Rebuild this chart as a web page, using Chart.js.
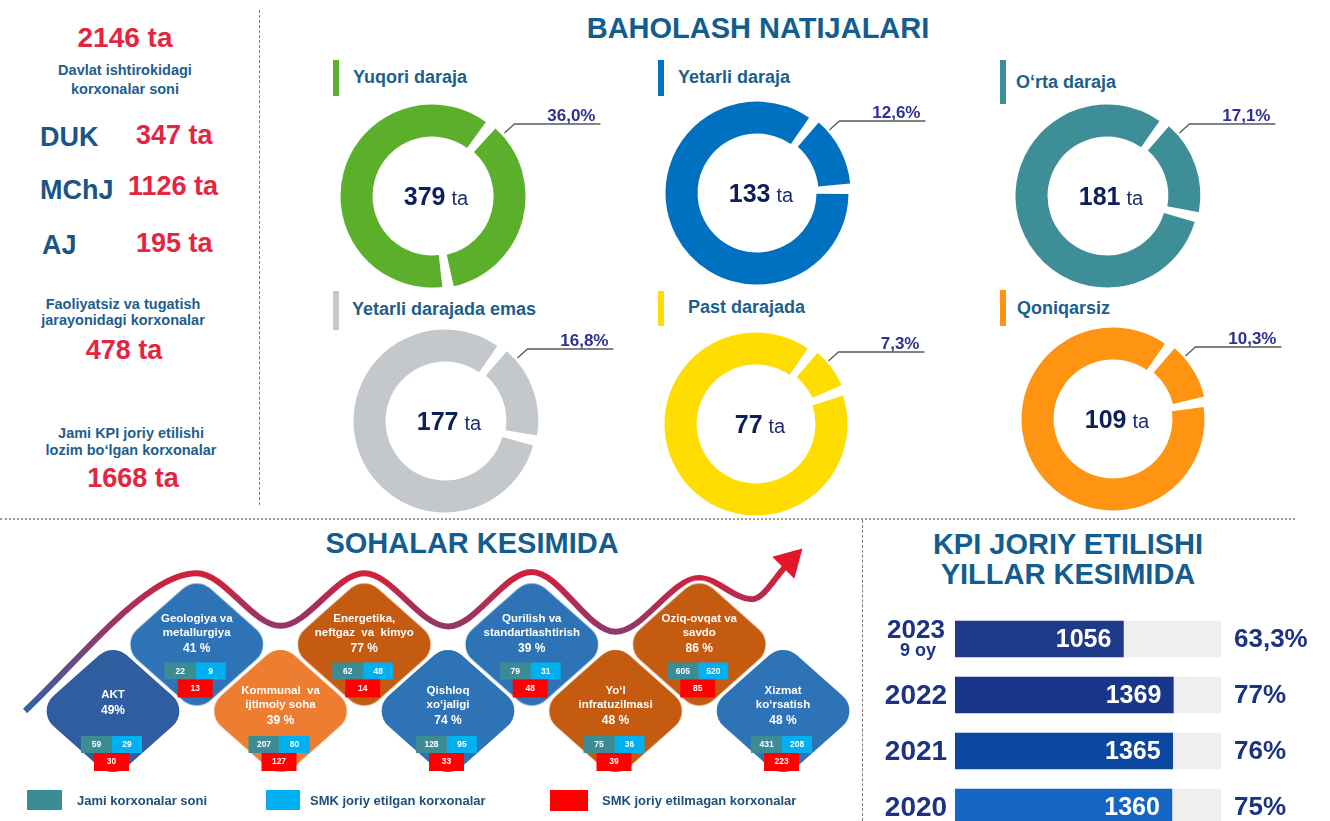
<!DOCTYPE html>
<html>
<head>
<meta charset="utf-8">
<script src="https://cdn.jsdelivr.net/npm/chart.js@4.4.0/dist/chart.umd.min.js"></script>
<style>
	body { margin: 0; width: 1330px; height: 821px; overflow: hidden; background: #fff; position: relative;
		font-family: 'Liberation Sans', Arial, sans-serif; }
	.t { position: absolute; white-space: nowrap; font-weight: bold; line-height: 1; }
	.c { text-align: center; }
	.red { color: #E5243F; }
	.blu { color: #1D5E8D; }
	.ttl { color: #135D8E; font-size: 29px; }
	.dt { color: #1C5F8C; font-size: 18px; }
	.bar { position: absolute; width: 6px; }
	.sq { position: absolute; }
	.lg { color: #1F4E79; font-size: 13px; }
	canvas { position: absolute; }
</style>
</head>
<body>
	<!-- separators -->
	<div style="position:absolute;left:259px;top:10px;height:495px;border-left:1px dashed #7a7a7a"></div>
	<div style="position:absolute;left:0;top:518px;width:1295px;border-top:2px dotted #9a9a9a"></div>
	<div style="position:absolute;left:862px;top:520px;height:301px;border-left:1px dashed #7a7a7a"></div>

	<!-- left panel -->
	<div class="t c red" style="left:0;width:250px;top:24px;font-size:28px">2146 ta</div>
	<div class="t c blu" style="left:0;width:250px;top:63px;font-size:14.5px">Davlat ishtirokidagi</div>
	<div class="t c blu" style="left:0;width:250px;top:82px;font-size:14.5px">korxonalar soni</div>
	<div class="t blu" style="left:40px;top:124px;font-size:27px;color:#1B5585">DUK</div>
	<div class="t red" style="left:136px;top:122px;font-size:27px">347 ta</div>
	<div class="t blu" style="left:40px;top:177px;font-size:27px;color:#1B5585">MChJ</div>
	<div class="t red" style="left:128px;top:173px;font-size:27px">1126 ta</div>
	<div class="t blu" style="left:42px;top:232px;font-size:27px;color:#1B5585">AJ</div>
	<div class="t red" style="left:136px;top:230px;font-size:27px">195 ta</div>
	<div class="t c blu" style="left:0;width:246px;top:297px;font-size:14.5px">Faoliyatsiz va tugatish</div>
	<div class="t c blu" style="left:0;width:246px;top:313px;font-size:14.5px">jarayonidagi korxonalar</div>
	<div class="t c red" style="left:0;width:248px;top:337px;font-size:27px">478 ta</div>
	<div class="t c blu" style="left:0;width:262px;top:426px;font-size:14.5px">Jami KPI joriy etilishi</div>
	<div class="t c blu" style="left:0;width:262px;top:443px;font-size:14.5px">lozim bo‘lgan korxonalar</div>
	<div class="t c red" style="left:0;width:266px;top:465px;font-size:27px">1668 ta</div>

	<!-- titles -->
	<div class="t c ttl" style="left:508px;width:500px;top:14px">BAHOLASH NATIJALARI</div>
	<div class="t c ttl" style="left:222px;width:500px;top:529px">SOHALAR KESIMIDA</div>
	<div class="t c ttl" style="left:818px;width:500px;top:530px">KPI JORIY ETILISHI</div>
	<div class="t c ttl" style="left:818px;width:500px;top:560px">YILLAR KESIMIDA</div>

	<!-- doughnut headings -->
	<div class="bar" style="left:333px;top:60px;height:36px;background:#5BAF2B"></div>
	<div class="t dt" style="left:353px;top:68px">Yuqori daraja</div>
	<div class="bar" style="left:658px;top:60px;height:36px;background:#0070C0"></div>
	<div class="t dt" style="left:678px;top:68px">Yetarli daraja</div>
	<div class="bar" style="left:1000px;top:60px;height:44px;background:#3E8E98"></div>
	<div class="t dt" style="left:1016px;top:73px">O‘rta daraja</div>
	<div class="bar" style="left:333px;top:291px;height:39px;background:#C4C8CC"></div>
	<div class="t dt" style="left:352px;top:300px">Yetarli darajada emas</div>
	<div class="bar" style="left:658px;top:291px;height:35px;background:#FFDD00"></div>
	<div class="t dt" style="left:688px;top:298px">Past darajada</div>
	<div class="bar" style="left:1000px;top:290px;height:36px;background:#FF9312"></div>
	<div class="t dt" style="left:1017px;top:299px">Qoniqarsiz</div>

	<canvas id="d0" width="360" height="220" style="left:252px;top:86px"></canvas>
	<canvas id="d1" width="360" height="220" style="left:577px;top:83px"></canvas>
	<canvas id="d2" width="360" height="220" style="left:927px;top:86px"></canvas>
	<canvas id="d3" width="360" height="220" style="left:265px;top:311px"></canvas>
	<canvas id="d4" width="360" height="220" style="left:576px;top:314px"></canvas>
	<canvas id="d5" width="360" height="220" style="left:933px;top:309px"></canvas>

	<canvas id="sectors" width="860" height="265" style="left:0;top:520px"></canvas>
	<canvas id="kpi" width="468" height="224" style="left:862px;top:611px"></canvas>

	<!-- sector legend -->
	<div class="sq" style="left:27px;top:790px;width:35px;height:20px;background:#3C8C96"></div>
	<div class="t lg" style="left:77px;top:794px">Jami korxonalar soni</div>
	<div class="sq" style="left:266px;top:790px;width:34px;height:20px;background:#00B0F0"></div>
	<div class="t lg" style="left:310px;top:794px">SMK joriy etilgan korxonalar</div>
	<div class="sq" style="left:550px;top:790px;width:38px;height:21px;background:#FF0000"></div>
	<div class="t lg" style="left:602px;top:794px">SMK joriy etilmagan korxonalar</div>

<script>
	// Baholash natijalari
	const donutTitles = ['Yuqori daraja', 'Yetarli daraja', 'O‘rta daraja', 'Yetarli darajada emas', 'Past darajada', 'Qoniqarsiz'];
	const donutCounts = [379, 133, 181, 177, 77, 109];
	const donutShares = [36.0, 12.6, 17.1, 16.8, 7.3, 10.3];

	// Sohalar kesimida
	const sectorNames = [
		['AKT'], ['Geologiya va', 'metallurgiya'], ['Kommunal  va', 'ijtimoiy soha'],
		['Energetika,', 'neftgaz  va  kimyo'], ['Qishloq', 'xo‘jaligi'], ['Qurilish va', 'standartlashtirish'],
		['Yo‘l', 'infratuzilmasi'], ['Oziq-ovqat va', 'savdo'], ['Xizmat', 'ko‘rsatish']
	];
	const sectorPct = ['49%', '41 %', '39 %', '77 %', '74 %', '39 %', '48 %', '86 %', '48 %'];
	const sectorTotal = [59, 22, 207, 62, 128, 79, 75, 605, 431];
	const sectorSmk = [29, 9, 80, 48, 95, 31, 36, 520, 208];
	const sectorNoSmk = [30, 13, 127, 14, 33, 48, 39, 85, 223];

	// wave behind the sectors (x: sector index, y: row)
	const waveX = [-1.05, 0.5, 1, 2, 3, 4, 5, 6, 7, 7.63, 8.05];
	const waveY = [0, 1.84, 2.07, 1.28, 2.07, 1.27, 2.09, 1.19, 2.0, 1.68, 2.2];
	const arrowTip = { x: 8.08, y: 2.25 };

	// KPI joriy etilishi yillar kesimida
	const kpiYears = ['2023', '2022', '2021', '2020'];
	const kpiSub = ['9 oy', '', '', ''];
	const kpiDone = [1056, 1369, 1365, 1360];
	const kpiShare = [63.3, 77, 76, 75];
	const kpiRequired = 1668;

	const FONT = '"Liberation Sans", Arial, sans-serif';
	const donutColors = ['#5BAF2B', '#0070C0', '#3E8E98', '#C4C8CC', '#FFDD00', '#FF9312'];
	const sectorColors = ['#2F5DA0', '#2E73B5', '#ED7D31', '#C55A11', '#2E73B5', '#2E73B5', '#C55A11', '#C55A11', '#2E73B5'];
	const kpiColors = ['#1E3A8A', '#19378A', '#0B46A0', '#1565C4'];

	function pctText(v, fixed) {
		const s = fixed ? v.toFixed(1) : String(v);
		return s.replace('.', ',') + '%';
	}

	const donutText = {
		id: 'donutText',
		afterDatasetsDraw(chart, args, opts) {
			const ctx = chart.ctx;
			const arc = chart.getDatasetMeta(0).data[0];
			const cx = arc.x, cy = arc.y, R = arc.outerRadius;
			ctx.save();
			// centre count
			const n = String(opts.count);
			ctx.font = 'bold 25px ' + FONT;
			const w1 = ctx.measureText(n).width;
			ctx.font = '20px ' + FONT;
			const w2 = ctx.measureText('ta').width;
			const x0 = cx + 4 - (w1 + 6 + w2) / 2;
			ctx.textBaseline = 'alphabetic';
			ctx.fillStyle = '#0C1E5B';
			ctx.font = 'bold 25px ' + FONT;
			ctx.fillText(n, x0, cy + 9);
			ctx.fillStyle = '#1B2C6E';
			ctx.font = '20px ' + FONT;
			ctx.fillText('ta', x0 + w1 + 6, cy + 9);
			// leader line and share
			const a = arc.startAngle + 9 * Math.PI / 180;
			const r0 = R + 7;
			const p0 = [cx + Math.cos(a) * r0, cy + Math.sin(a) * r0];
			const p1 = [p0[0] + 10, p0[1] - 9];
			const p2 = [p1[0] + 86, p1[1]];
			ctx.strokeStyle = '#5a5a5a';
			ctx.lineWidth = 1.3;
			ctx.beginPath();
			ctx.moveTo(p0[0], p0[1]);
			ctx.lineTo(p1[0], p1[1]);
			ctx.lineTo(p2[0], p2[1]);
			ctx.stroke();
			ctx.fillStyle = '#2E3192';
			ctx.font = 'bold 17px ' + FONT;
			ctx.textAlign = 'right';
			ctx.fillText(pctText(opts.share, true), p2[0] - 5, p1[1] - 3);
			ctx.restore();
		}
	};

	donutCounts.forEach((count, i) => {
		new Chart(document.getElementById('d' + i), {
			type: 'doughnut',
			data: {
				labels: [donutTitles[i], ''],
				datasets: [{
					data: [donutShares[i], 100 - donutShares[i]],
					backgroundColor: donutColors[i],
					borderWidth: 0,
					offset: [7, 0],
					spacing: 5
				}]
			},
			options: {
				responsive: false,
				animation: false,
				devicePixelRatio: 1,
				events: [],
				radius: 89,
				cutout: '64%',
				rotation: 40,
				plugins: {
					legend: { display: false },
					tooltip: { enabled: false },
					donutText: { count: count, share: donutShares[i] }
				}
			},
			plugins: [donutText]
		});
	});

	// rounded diamond used as the point style of each sector
	function makeDiamond(color) {
		const w = 79, h = 70, r = 22, pad = 3;
		const c = document.createElement('canvas');
		c.width = 2 * (w + pad);
		c.height = 2 * (h + pad);
		const g = c.getContext('2d');
		g.translate(w + pad, h + pad);
		const pts = [[0, -h], [w, 0], [0, h], [-w, 0]];
		g.beginPath();
		g.moveTo(-w / 2, -h / 2);
		for (let i = 0; i < 4; i++) {
			const p = pts[i], q = pts[(i + 1) % 4];
			g.arcTo(p[0], p[1], q[0], q[1], r);
		}
		g.closePath();
		g.fillStyle = color;
		g.fill();
		g.lineWidth = 3;
		g.strokeStyle = '#fff';
		g.stroke();
		return c;
	}

	const sectorText = {
		id: 'sectorText',
		afterDatasetsDraw(chart) {
			const ctx = chart.ctx;
			const pts = chart.getDatasetMeta(1).data;
			ctx.save();
			ctx.textAlign = 'center';
			ctx.textBaseline = 'middle';
			pts.forEach((pt, i) => {
				const cx = pt.x, cy = pt.y;
				const top = i % 2 === 1;
				const lines = sectorNames[i];
				const boxTop = cy + (top ? 18 : 25);
				const pctY = lines.length === 1 ? cy : cy + (top ? 4 : 10);
				ctx.fillStyle = '#fff';
				ctx.font = 'bold 11.5px ' + FONT;
				if (lines.length === 1) {
					ctx.fillText(lines[0], cx, pctY - 16);
				} else {
					ctx.fillText(lines[0], cx, pctY - 30);
					ctx.fillText(lines[1], cx, pctY - 16);
				}
				ctx.font = 'bold 12px ' + FONT;
				ctx.fillText(sectorPct[i], cx, pctY);
				// count cells
				const bx = cx - 32;
				ctx.fillStyle = '#3C8C96';
				ctx.fillRect(bx, boxTop, 31, 17);
				ctx.fillStyle = '#00B0F0';
				ctx.fillRect(bx + 31, boxTop, 30, 17);
				ctx.fillStyle = '#FF0000';
				ctx.fillRect(cx - 19, boxTop + 17, 35, 18);
				ctx.fillStyle = '#fff';
				ctx.font = 'bold 8.5px ' + FONT;
				ctx.fillText(String(sectorTotal[i]), bx + 15.5, boxTop + 9);
				ctx.fillText(String(sectorSmk[i]), bx + 46, boxTop + 9);
				ctx.fillText(String(sectorNoSmk[i]), cx - 1.5, boxTop + 26);
			});
			ctx.restore();
		}
	};

	function waveGradient(context) {
		const chart = context.chart;
		const area = chart.chartArea;
		if (!area) return '#8a3d6e';
		const y = chart.scales.y;
		const g = chart.ctx.createLinearGradient(0, y.getPixelForValue(2.1), 0, y.getPixelForValue(0));
		g.addColorStop(0, '#D41F3A');
		g.addColorStop(0.45, '#8C3A6E');
		g.addColorStop(1, '#2F63AA');
		return g;
	}

	new Chart(document.getElementById('sectors'), {
		type: 'scatter',
		data: {
			datasets: [
				{
					type: 'line',
					data: waveX.map((x, i) => ({ x: x, y: waveY[i] })),
					borderColor: waveGradient,
					borderWidth: 6,
					pointRadius: 0,
					cubicInterpolationMode: 'monotone',
					clip: false,
					order: 2
				},
				{
					data: sectorNames.map((n, i) => ({ x: i, y: i % 2 === 1 ? 1 : 0 })),
					pointStyle: sectorColors.map(makeDiamond),
					pointRadius: 10,
					clip: false,
					order: 1
				},
				{
					data: [arrowTip],
					pointStyle: 'triangle',
					pointRotation: 45,
					pointRadius: 18,
					pointBackgroundColor: '#E3162B',
					pointBorderWidth: 0,
					clip: false,
					order: 0
				}
			]
		},
		options: {
			responsive: false,
			animation: false,
			devicePixelRatio: 1,
			events: [],
			layout: { padding: { left: 71.1, right: 35.1, top: 14.2, bottom: 74 } },
			scales: {
				x: { type: 'linear', min: -0.5, max: 8.5, display: false },
				y: { type: 'linear', min: 0, max: 2.6, display: false }
			},
			plugins: { legend: { display: false }, tooltip: { enabled: false } }
		},
		plugins: [sectorText]
	});

	const kpiText = {
		id: 'kpiText',
		afterDatasetsDraw(chart) {
			const ctx = chart.ctx;
			const area = chart.chartArea;
			const bars = chart.getDatasetMeta(0).data;
			ctx.save();
			ctx.textBaseline = 'middle';
			bars.forEach((bar, i) => {
				ctx.fillStyle = '#fff';
				ctx.font = 'bold 25px ' + FONT;
				ctx.textAlign = 'right';
				ctx.fillText(String(kpiDone[i]), bar.x - 12, bar.y + 1);
				ctx.fillStyle = '#1B3382';
				ctx.textAlign = 'center';
				if (kpiSub[i]) {
					ctx.font = 'bold 26px ' + FONT;
					ctx.fillText(kpiYears[i], area.left - 39, bar.y - 8);
					ctx.font = 'bold 18px ' + FONT;
					ctx.fillText(kpiSub[i], area.left - 37, bar.y + 12);
				} else {
					ctx.font = 'bold 28px ' + FONT;
					ctx.fillText(kpiYears[i], area.left - 39, bar.y + 1);
				}
				ctx.textAlign = 'left';
				ctx.font = 'bold 26px ' + FONT;
				ctx.fillText(pctText(kpiShare[i], false), area.right + 13, bar.y + 1);
			});
			ctx.restore();
		}
	};

	new Chart(document.getElementById('kpi'), {
		type: 'bar',
		data: {
			labels: kpiYears,
			datasets: [
				{ data: kpiDone, backgroundColor: kpiColors, barThickness: 36, grouped: false, order: 0 },
				{ data: kpiYears.map(() => kpiRequired), backgroundColor: '#EFEFEF', barThickness: 36, grouped: false, order: 1 }
			]
		},
		options: {
			indexAxis: 'y',
			responsive: false,
			animation: false,
			devicePixelRatio: 1,
			events: [],
			layout: { padding: { left: 93, right: 109, top: 0, bottom: 0 } },
			scales: {
				x: { min: 0, max: kpiRequired, display: false },
				y: { display: false }
			},
			plugins: { legend: { display: false }, tooltip: { enabled: false } }
		},
		plugins: [kpiText]
	});
</script>
</body>
</html>
